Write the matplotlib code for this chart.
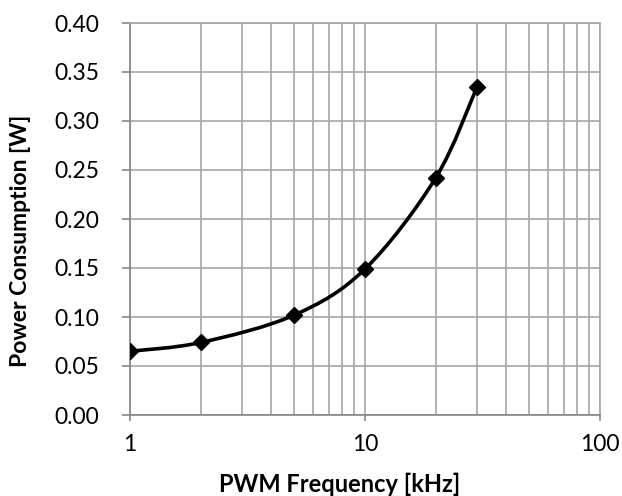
import matplotlib
matplotlib.use("Agg")
import matplotlib.pyplot as plt
from matplotlib.path import Path
from matplotlib.patches import PathPatch
from matplotlib.ticker import FixedLocator, FormatStrFormatter, NullFormatter
import numpy as np

plt.rcParams['font.family'] = ['Lato', 'DejaVu Sans']

freq_khz = [1, 2, 5, 10, 20, 30]
power_w = [0.065, 0.074, 0.102, 0.149, 0.242, 0.335]

fig = plt.figure(figsize=(6.22, 4.96), dpi=100)
ax = fig.add_axes([130 / 622, 1 - 415 / 496, 470 / 622, 392 / 496])
ax.set_xscale('log')
ax.set_xlim(1, 100)
ax.set_ylim(0, 0.40)

# Excel-style smoothed line: Catmull-Rom -> cubic Bezier in (log x, y) space
lx = np.log10(freq_khz)
py = np.array(power_w)
pts = np.column_stack([lx, py])
ext = np.vstack([pts[0], pts, pts[-1]])
verts = [tuple(pts[0])]
codes = [Path.MOVETO]
for i in range(len(pts) - 1):
    p0, p1, p2, p3 = ext[i], ext[i + 1], ext[i + 2], ext[i + 3]
    c1 = p1 + (p2 - p0) / 6
    c2 = p2 - (p3 - p1) / 6
    verts += [tuple(c1), tuple(c2), tuple(p2)]
    codes += [Path.CURVE4] * 3
verts = [(10 ** vx, vy) for vx, vy in verts]
ax.add_patch(PathPatch(Path(verts, codes), facecolor='none', edgecolor='black',
                       lw=2.6, zorder=3))
ax.plot(freq_khz, power_w, linestyle='none', marker='D', color='black',
        markersize=8, zorder=4)

ax.yaxis.set_major_locator(FixedLocator(np.arange(0, 0.401, 0.05)))
ax.yaxis.set_major_formatter(FormatStrFormatter('%.2f'))
ax.xaxis.set_major_locator(FixedLocator([1, 10, 100]))
ax.xaxis.set_major_formatter(FormatStrFormatter('%g'))
ax.xaxis.set_minor_locator(FixedLocator([m * d for d in (1, 10) for m in range(2, 10)]))
ax.xaxis.set_minor_formatter(NullFormatter())

ax.grid(True, which='both', color='#a6a6a6', lw=1.2)
ax.set_axisbelow(True)
for s in ax.spines.values():
    s.set_color('#a6a6a6')
    s.set_linewidth(1.2)
ax.spines['left'].set_color('#868686')
ax.spines['bottom'].set_color('#868686')

ax.tick_params(axis='y', which='major', length=6, width=1.2, color='#868686',
               labelsize=16.5, pad=16)
ax.tick_params(axis='x', which='major', length=4, width=1.2, color='#868686',
               labelsize=16.5, pad=10)
ax.tick_params(axis='x', which='minor', length=0)

ax.set_xlabel('PWM Frequency [kHz]', fontsize=17, fontweight='bold', va='center')
ax.set_ylabel('Power Consumption [W]', fontsize=16.5, fontweight='bold', va='center')
ax.xaxis.set_label_coords((340 - 130) / 470, -(484 - 415) / 392)
ax.yaxis.set_label_coords(-(130 - 21) / 470, (415 - 241) / 392)

fig.savefig('out.png', dpi=100)
